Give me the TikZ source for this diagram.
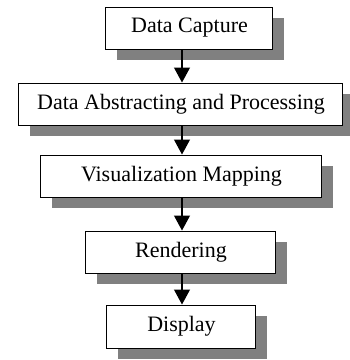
\documentclass[tikz,border=0pt]{standalone}
\usepackage{fontspec}
\setmainfont{Liberation Serif}
\usetikzlibrary{arrows.meta,shadows}
\definecolor{shadowgray}{RGB}{128,128,128}
\begin{document}
\begin{tikzpicture}[x=1pt,y=1pt,
  stagebox/.style={draw=black, line width=1pt, fill=white, inner sep=0pt,
    minimum height=42pt, font=\fontsize{22}{26}\selectfont,
    drop shadow={shadow xshift=11pt, shadow yshift=-11pt, fill=shadowgray, opacity=1}},
  flow/.style={line width=1.2pt, -{Triangle[width=16pt,length=15pt]}}]
\useasboundingbox (0,0) rectangle (350,360);
\node[stagebox, minimum width=167pt] (b1) at (189.5,332) {Data Capture};
\node[stagebox, minimum width=324pt] (b2) at (181,256) {Data Abstracting and Processing};
\node[stagebox, minimum width=281pt] (b3) at (181.5,184) {Visualization Mapping};
\node[stagebox, minimum width=190pt] (b4) at (181,108) {Rendering};
\node[stagebox, minimum width=149pt, minimum height=43pt] (b5) at (181.5,33.5) {Display};
\coordinate (ax) at (182,0);
\draw[flow] (b1.south -| ax) -- (b2.north -| ax);
\draw[flow] (b2.south -| ax) -- (b3.north -| ax);
\draw[flow] (b3.south -| ax) -- (b4.north -| ax);
\draw[flow] (b4.south -| ax) -- (b5.north -| ax);
\end{tikzpicture}
\end{document}
